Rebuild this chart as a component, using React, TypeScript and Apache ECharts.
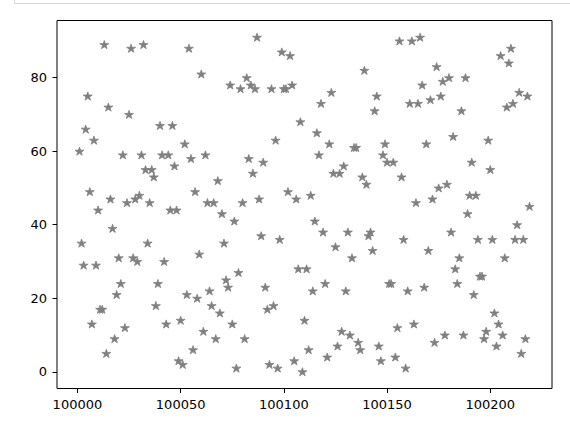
import React, { useEffect, useRef } from "react";
import * as echarts from "echarts";

const X_VALUES = [
  100001, 100002, 100003, 100004, 100005, 100006, 100007, 100008, 100009, 100010,
  100011, 100012, 100013, 100014, 100015, 100016, 100017, 100018, 100019, 100020,
  100021, 100022, 100023, 100024, 100025, 100026, 100027, 100028, 100029, 100030,
  100031, 100032, 100033, 100034, 100035, 100036, 100037, 100038, 100039, 100040,
  100041, 100042, 100043, 100044, 100045, 100046, 100047, 100048, 100049, 100050,
  100051, 100052, 100053, 100054, 100055, 100056, 100057, 100058, 100059, 100060,
  100061, 100062, 100063, 100064, 100065, 100066, 100067, 100068, 100069, 100070,
  100071, 100072, 100073, 100074, 100075, 100076, 100077, 100078, 100079, 100080,
  100081, 100082, 100083, 100084, 100085, 100086, 100087, 100088, 100089, 100090,
  100091, 100092, 100093, 100094, 100095, 100096, 100097, 100098, 100099, 100100,
  100101, 100102, 100103, 100104, 100105, 100106, 100107, 100108, 100109, 100110,
  100111, 100112, 100113, 100114, 100115, 100116, 100117, 100118, 100119, 100120,
  100121, 100122, 100123, 100124, 100125, 100126, 100127, 100128, 100129, 100130,
  100131, 100132, 100133, 100134, 100135, 100136, 100137, 100138, 100139, 100140,
  100141, 100142, 100143, 100144, 100145, 100146, 100147, 100148, 100149, 100150,
  100151, 100152, 100153, 100154, 100155, 100156, 100157, 100158, 100159, 100160,
  100161, 100162, 100163, 100164, 100165, 100166, 100167, 100168, 100169, 100170,
  100171, 100172, 100173, 100174, 100175, 100176, 100177, 100178, 100179, 100180,
  100181, 100182, 100183, 100184, 100185, 100186, 100187, 100188, 100189, 100190,
  100191, 100192, 100193, 100194, 100195, 100196, 100197, 100198, 100199, 100200,
  100201, 100202, 100203, 100204, 100205, 100206, 100207, 100208, 100209, 100210,
  100211, 100212, 100213, 100214, 100215, 100216, 100217, 100218, 100219,
];

const Y_VALUES = [
  60, 35, 29, 66, 75, 49, 13, 63, 29, 44,
  17, 17, 89, 5, 72, 47, 39, 9, 21, 31,
  24, 59, 12, 46, 70, 88, 31, 47, 30, 48,
  59, 89, 55, 35, 46, 55, 53, 18, 24, 67,
  59, 30, 13, 59, 44, 67, 56, 44, 3, 14,
  2, 62, 21, 88, 58, 6, 49, 20, 32, 81,
  11, 59, 46, 22, 18, 46, 9, 52, 16, 43,
  35, 25, 23, 78, 13, 41, 1, 27, 77, 46,
  9, 80, 58, 78, 54, 77, 91, 47, 37, 57,
  23, 17, 2, 77, 18, 63, 1, 36, 87, 77,
  77, 49, 86, 78, 3, 47, 28, 68, 0, 14,
  28, 6, 48, 22, 41, 65, 59, 73, 38, 24,
  4, 62, 76, 54, 34, 7, 54, 11, 56, 22,
  38, 10, 31, 61, 61, 8, 6, 53, 82, 51,
  37, 38, 33, 71, 75, 7, 3, 59, 62, 57,
  24, 24, 57, 4, 12, 90, 53, 36, 1, 22,
  73, 90, 13, 46, 73, 91, 78, 23, 62, 33,
  74, 47, 8, 83, 50, 75, 79, 10, 51, 80,
  38, 64, 28, 24, 31, 71, 10, 80, 43, 48,
  57, 21, 48, 36, 26, 26, 9, 11, 63, 55,
  36, 16, 7, 13, 86, 10, 31, 72, 84, 88,
  73, 36, 40, 76, 5, 36, 9, 75, 45,
];

const X_TICKS = [100000, 100050, 100100, 100150, 100200];
const Y_TICKS = [0, 20, 40, 60, 80];

function starPath(): string {
  const pts: string[] = [];
  for (let k = 0; k < 10; k++) {
    const a = (-90 + k * 36) * (Math.PI / 180);
    const r = k % 2 === 0 ? 10 : 3.81966;
    pts.push(`${(r * Math.cos(a)).toFixed(3)} ${(r * Math.sin(a)).toFixed(3)}`);
  }
  return "path://M" + pts.join(" L") + " Z";
}

function limits(vals: number[]): [number, number] {
  const lo = Math.min(...vals);
  const hi = Math.max(...vals);
  const m = (hi - lo) * 0.05;
  return [lo - m, hi + m];
}

const FONT = "DejaVu Sans";

export default function App() {
  const ref = useRef<HTMLDivElement>(null);
  useEffect(() => {
    if (!ref.current) return;
    const chart = echarts.init(ref.current, null, { renderer: "svg" });
    const [xMin, xMax] = limits(X_VALUES);
    const [yMin, yMax] = limits(Y_VALUES);
    const data = X_VALUES.map((x, i) => [x, Y_VALUES[i]]);
    chart.setOption({
      animation: false,
      backgroundColor: "#ffffff",
      graphic: [
        {
          type: "rect",
          shape: { x: 14.5, y: -20, width: 600, height: 23.5 },
          style: { fill: "none", stroke: "#d9d9d9", lineWidth: 1 },
          silent: true,
        },
      ],
      grid: {
        left: 57,
        top: 20.5,
        width: 495,
        height: 368,
        show: true,
        borderColor: "#000",
        borderWidth: 1,
        backgroundColor: "transparent",
      },
      xAxis: {
        type: "value",
        min: xMin,
        max: xMax,
        position: "bottom",
        splitLine: { show: false },
        axisLine: { show: false, onZero: false },
        axisTick: {
          show: true,
          length: 4.5,
          customValues: X_TICKS,
          lineStyle: { color: "#000", width: 1 },
        },
        axisLabel: {
          customValues: X_TICKS,
          formatter: (v: number) => String(v),
          color: "#000",
          fontFamily: FONT,
          fontSize: 13,
          margin: 9,
        },
      },
      yAxis: {
        type: "value",
        min: yMin,
        max: yMax,
        position: "left",
        splitLine: { show: false },
        axisLine: { show: false, onZero: false },
        axisTick: {
          show: true,
          length: 4.5,
          customValues: Y_TICKS,
          lineStyle: { color: "#000", width: 1 },
        },
        axisLabel: {
          customValues: Y_TICKS,
          formatter: (v: number) => String(v),
          color: "#000",
          fontFamily: FONT,
          fontSize: 13,
          margin: 10,
        },
      },
      series: [
        {
          type: "scatter",
          data,
          symbol: starPath(),
          symbolSize: [9, 8.56],
          symbolKeepAspect: true,
          itemStyle: {
            color: "#808080",
            borderColor: "#808080",
            borderWidth: 0.8,
            opacity: 1,
          },
          emphasis: { disabled: true },
        },
      ],
    });
    return () => chart.dispose();
  }, []);
  return (
    <div
      ref={ref}
      style={{ position: "absolute", left: 0, top: 0, width: 570, height: 425, background: "#fff" }}
    />
  );
}
